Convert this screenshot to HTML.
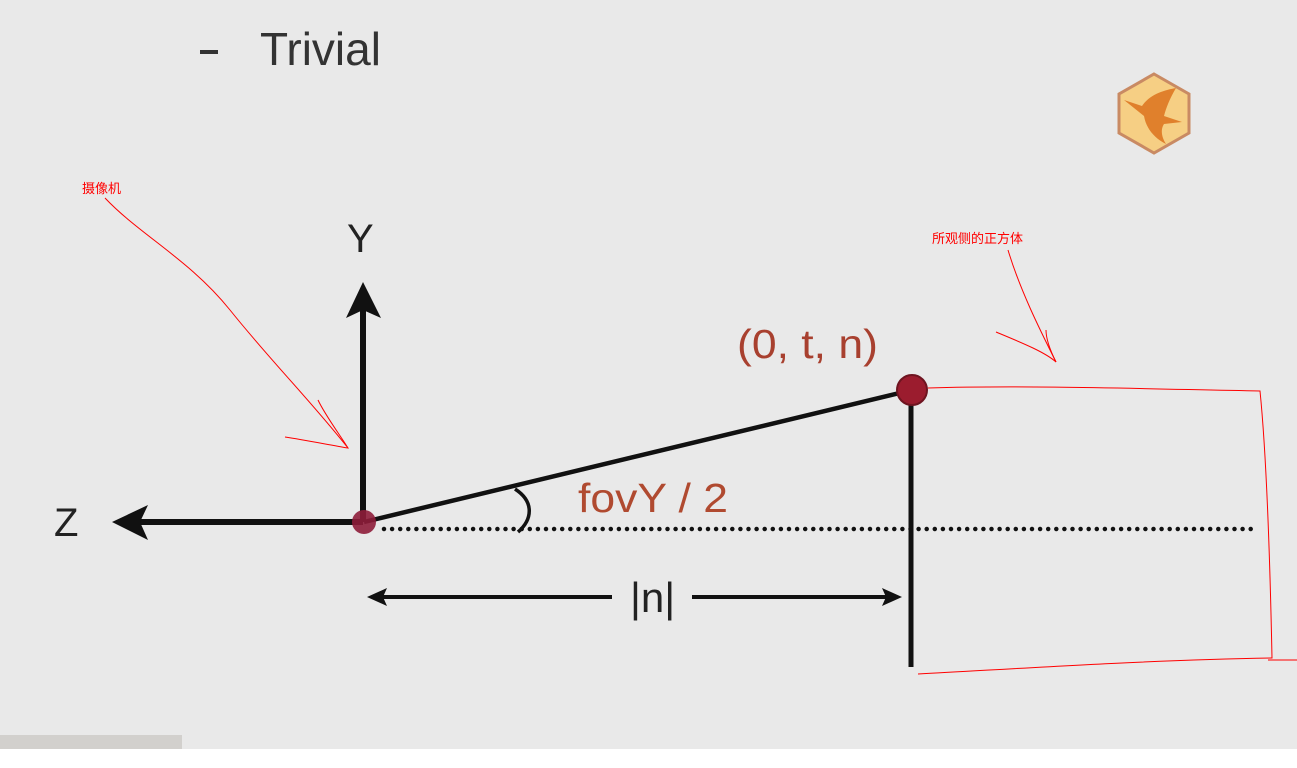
<!DOCTYPE html>
<html><head><meta charset="utf-8"><style>
html,body{margin:0;padding:0;background:#fff;}
svg{display:block;}
</style></head><body>
<svg width="1297" height="768" viewBox="0 0 1297 768" font-family="Liberation Sans, sans-serif">
<rect x="0" y="0" width="1297" height="749" fill="#e9e9e9"/>
<rect x="0" y="735" width="182" height="14" fill="#c8c4c0" opacity="0.7"/>
<g>
<rect x="200" y="50" width="18" height="4" fill="#333"/>
<text x="260" y="65" font-size="46" fill="#333">Trivial</text>
</g>
<g>
<polygon points="1154,74 1189,94 1189,133 1154,153 1119,133 1119,94" fill="#f6cf84" stroke="#c98a63" stroke-width="3"/>
<path d="M1124,100 L1142,106 C1150,94 1165,90 1176,88 C1170,98 1166,108 1164,116 L1182,122 L1164,124 C1160,130 1162,138 1166,144 C1154,138 1146,128 1144,116 Z" fill="#e0802c"/>
</g>
<g>
<line x1="363" y1="522" x2="363" y2="305" stroke="#111" stroke-width="6"/>
<polygon points="363,282 346,318 363,310 381,318" fill="#111"/>
<text x="347" y="252" font-size="40" fill="#222">Y</text>
</g>
<g>
<line x1="363" y1="522" x2="135" y2="522" stroke="#111" stroke-width="6"/>
<polygon points="112,522 148,505 140,522 148,540" fill="#111"/>
<text x="54" y="536" font-size="40" fill="#222">Z</text>
</g>
<g>
<line x1="384" y1="529" x2="1252" y2="529" stroke="#111" stroke-width="4.5" stroke-linecap="round" stroke-dasharray="0 8.1"/>
</g>
<line x1="364" y1="522" x2="912" y2="390" stroke="#111" stroke-width="4.5"/>
<path d="M515,489 C535,502 532,520 518,532" fill="none" stroke="#111" stroke-width="3.5"/>
<line x1="911" y1="392" x2="911" y2="667" stroke="#111" stroke-width="5"/>
<circle cx="364" cy="522" r="12" fill="#8e1d3a" opacity="0.9"/>
<circle cx="912" cy="390" r="15" fill="#9b1c2e" stroke="#6e1420" stroke-width="2"/>
<text x="737" y="358" font-size="41" fill="#a8402f" textLength="141" lengthAdjust="spacingAndGlyphs">(0, t, n)</text>
<text x="578" y="512" font-size="41" fill="#b04a30" textLength="150" lengthAdjust="spacingAndGlyphs">fovY / 2</text>
<g>
<line x1="380" y1="597" x2="612" y2="597" stroke="#111" stroke-width="4"/>
<polygon points="367,597 387,588 383,597 387,606" fill="#111"/>
<line x1="692" y1="597" x2="888" y2="597" stroke="#111" stroke-width="4"/>
<polygon points="902,597 882,588 886,597 882,606" fill="#111"/>
<text x="630" y="612" font-size="42" fill="#222">|n|</text>
</g>
<g fill="none" stroke="#f00" stroke-width="1">
<text x="82" y="193" font-size="13" fill="#f00" stroke="none" font-family="Liberation Sans, Noto Sans CJK SC, sans-serif">摄像机</text>
<path d="M105,198 C140,235 190,260 230,310 C270,360 310,400 348,448"/>
<path d="M285,437 C305,440 330,445 348,448 C340,435 325,415 318,400"/>
</g>
<g fill="none" stroke="#f00" stroke-width="1">
<text x="932" y="243" font-size="13" fill="#f00" stroke="none" font-family="Liberation Sans, Noto Sans CJK SC, sans-serif">所观侧的正方体</text>
<path d="M1008,250 C1020,290 1040,330 1056,362"/>
<path d="M996,332 C1020,342 1045,352 1056,362 C1050,350 1046,338 1046,330"/>
<path d="M928,388 C1030,385 1150,389 1260,391 C1266,450 1270,560 1272,658 C1150,660 1030,668 918,674"/>
<path d="M1268,660 L1297,660"/>
</g>
</svg>
</body></html>
